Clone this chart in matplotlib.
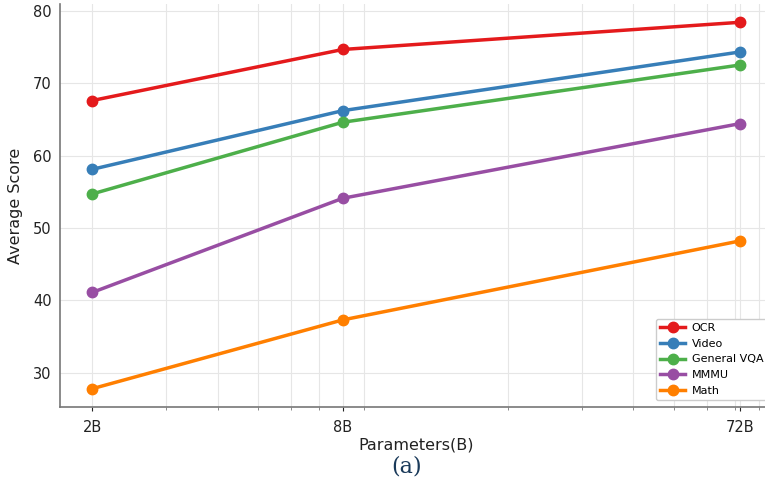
import matplotlib
matplotlib.use("Agg")
import matplotlib.pyplot as plt
from matplotlib.ticker import LogLocator, NullFormatter, FixedLocator, FixedFormatter

params = [2, 8, 72]
tick_labels = ["2B", "8B", "72B"]
ocr = [67.6, 74.65, 78.4]
video = [58.1, 66.2, 74.3]
general_vqa = [54.7, 64.6, 72.5]
mmmu = [41.1, 54.1, 64.4]
math_scores = [27.8, 37.3, 48.2]

series = [
    ("OCR", ocr, "#e41a1c"),
    ("Video", video, "#377eb8"),
    ("General VQA", general_vqa, "#4daf4a"),
    ("MMMU", mmmu, "#984ea3"),
    ("Math", math_scores, "#ff7f00"),
]

W, H = 765, 482
fig = plt.figure(figsize=(W / 100, H / 100), dpi=100)
ax = fig.add_axes([60 / W, (H - 407) / H, (772 - 60) / W, (407 - 4) / H])

for name, vals, col in series:
    ax.plot(params, vals, color=col, lw=2.5, marker="o", ms=7.5, label=name, zorder=3)

ax.set_xscale("log")
ax.xaxis.set_major_locator(FixedLocator(params))
ax.xaxis.set_major_formatter(FixedFormatter(tick_labels))
ax.xaxis.set_minor_locator(LogLocator(base=10, subs=range(2, 10)))
ax.xaxis.set_minor_formatter(NullFormatter())

ax.grid(True, which="both", color="#e6e6e6", lw=0.8, zorder=0)
ax.set_axisbelow(True)

for s in ["top", "right"]:
    ax.spines[s].set_visible(False)
for s in ["left", "bottom"]:
    ax.spines[s].set_color("#777777")
    ax.spines[s].set_linewidth(1.2)

ax.tick_params(axis="y", length=0, labelsize=10.5, colors="#222222", pad=6)
ax.tick_params(axis="x", which="major", length=3, labelsize=10.5, colors="#222222", pad=6)
ax.tick_params(axis="x", which="minor", length=2.5, color="#777777")
ax.set_yticks([30, 40, 50, 60, 70, 80])

ax.set_ylabel("Average Score", fontsize=11.5, color="#222222", labelpad=7)
ax.set_xlabel("Parameters(B)", fontsize=11.5, color="#222222", labelpad=2)

leg = ax.legend(loc="lower left", bbox_to_anchor=(656 / W, (H - 400) / H),
                bbox_transform=fig.transFigure, fontsize=8, framealpha=1,
                edgecolor="#cccccc", borderaxespad=0, handlelength=2.2,
                handletextpad=0.6)

fig.text(407 / W, (H - 466) / H, "(a)", fontsize=16, family="DejaVu Serif",
         ha="center", va="center", color="#1a3a5a")

fig.savefig("out.png", dpi=100)
